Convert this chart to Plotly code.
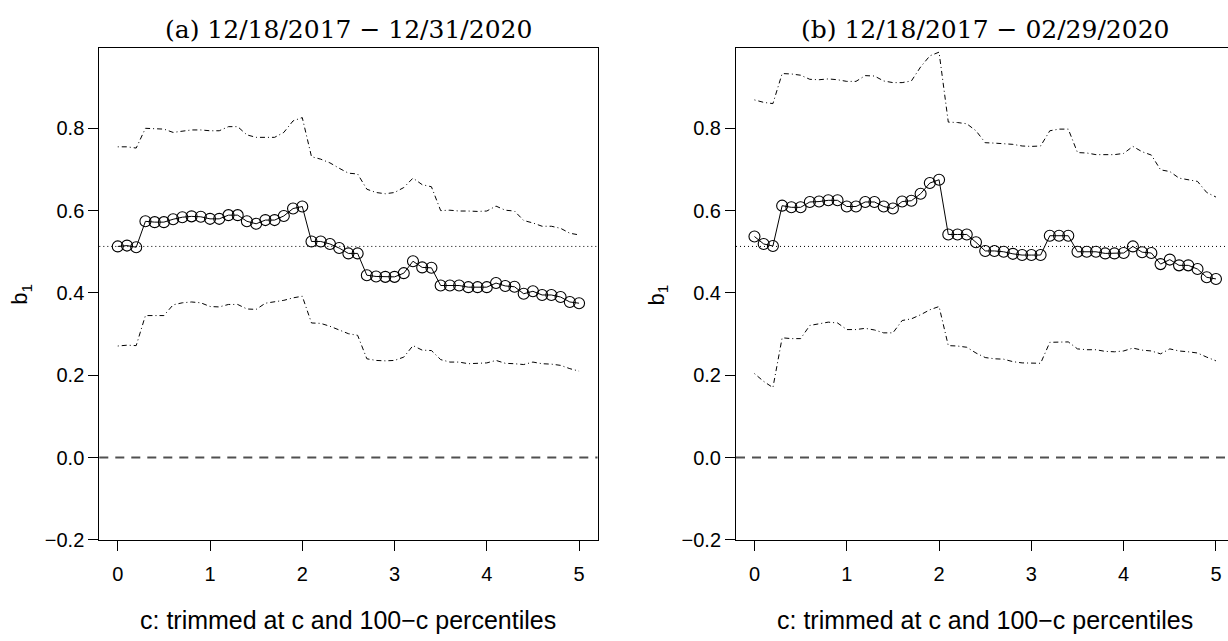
import plotly.graph_objects as go

W, H = 1228, 641

c_vals = [round(0.1 * i, 1) for i in range(51)]

a_est = [0.513,0.515,0.511,0.574,0.572,0.572,0.579,0.584,0.586,0.585,
         0.580,0.580,0.589,0.589,0.574,0.568,0.577,0.577,0.587,0.605,
         0.610,0.525,0.525,0.519,0.509,0.496,0.496,0.443,0.440,0.439,
         0.439,0.448,0.477,0.462,0.461,0.418,0.418,0.418,0.414,0.414,
         0.414,0.424,0.417,0.415,0.398,0.404,0.395,0.395,0.390,0.378,0.375]
a_upper = [0.755,0.755,0.752,0.800,0.799,0.798,0.790,0.793,0.796,0.796,
           0.794,0.794,0.804,0.804,0.784,0.778,0.778,0.778,0.790,0.818,
           0.826,0.731,0.725,0.716,0.703,0.691,0.689,0.652,0.644,0.641,
           0.644,0.656,0.679,0.663,0.658,0.600,0.601,0.599,0.599,0.598,
           0.599,0.611,0.601,0.599,0.576,0.570,0.562,0.562,0.557,0.545,0.541]
a_lower = [0.271,0.273,0.272,0.345,0.345,0.345,0.371,0.376,0.378,0.376,
           0.367,0.366,0.372,0.372,0.361,0.360,0.375,0.378,0.382,0.388,
           0.392,0.327,0.326,0.319,0.310,0.301,0.297,0.240,0.236,0.235,
           0.236,0.244,0.272,0.261,0.260,0.238,0.232,0.232,0.228,0.229,
           0.230,0.236,0.229,0.228,0.226,0.232,0.228,0.227,0.224,0.216,0.210]

b_est = [0.537,0.519,0.514,0.612,0.608,0.608,0.621,0.622,0.625,0.625,
         0.610,0.610,0.621,0.621,0.610,0.605,0.622,0.624,0.641,0.667,
         0.675,0.542,0.542,0.542,0.523,0.502,0.502,0.500,0.495,0.492,
         0.492,0.492,0.539,0.539,0.539,0.500,0.500,0.500,0.496,0.496,
         0.497,0.513,0.499,0.497,0.470,0.481,0.467,0.467,0.458,0.438,0.434]
b_upper = [0.869,0.863,0.860,0.933,0.932,0.929,0.919,0.918,0.920,0.918,
           0.914,0.914,0.928,0.927,0.915,0.911,0.911,0.915,0.949,0.976,
           0.985,0.815,0.814,0.811,0.794,0.765,0.764,0.762,0.761,0.757,
           0.756,0.757,0.794,0.798,0.798,0.741,0.740,0.736,0.736,0.736,
           0.739,0.756,0.743,0.735,0.699,0.695,0.679,0.675,0.671,0.644,0.633]
b_lower = [0.204,0.185,0.170,0.291,0.289,0.289,0.321,0.325,0.329,0.327,
           0.311,0.311,0.314,0.310,0.303,0.303,0.333,0.337,0.347,0.359,
           0.367,0.272,0.271,0.268,0.254,0.243,0.240,0.239,0.233,0.230,
           0.229,0.229,0.280,0.281,0.281,0.264,0.262,0.262,0.258,0.257,
           0.259,0.266,0.261,0.259,0.252,0.264,0.259,0.257,0.254,0.244,0.235]

full_sample = 0.513

titles = ["(a) 12/18/2017 \u2212 12/31/2020", "(b) 12/18/2017 \u2212 02/29/2020"]
x_title = "c: trimmed at c and 100\u2212c percentiles"
y_title = "b<sub>1</sub>"
y_tickvals = [-0.2, 0.0, 0.2, 0.4, 0.6, 0.8]
y_ticktext = ["\u22120.2", "0.0", "0.2", "0.4", "0.6", "0.8"]
x_tickvals = [0, 1, 2, 3, 4, 5]

SANS = "Liberation Sans, Arial, sans-serif"
SERIF = "DejaVu Serif, serif"

def px(x):
    return x / W

def py(y):
    return 1 - y / H

# panel geometry (pixels)
top, bottom = 49.3, 549.3
L_left, L_right = 99.3, 597.5
R_left = 736.0
unit_px = 92.3

fig = go.Figure()

panels = [
    (a_est, a_upper, a_lower, "x", "y"),
    (b_est, b_upper, b_lower, "x2", "y2"),
]
for est, up, lo, xa, ya in panels:
    for bound in (up, lo):
        fig.add_trace(go.Scatter(
            x=c_vals, y=bound, mode="lines", xaxis=xa, yaxis=ya,
            line=dict(color="black", width=1, dash="1px,3px,5px,3px"),
            showlegend=False, hoverinfo="skip"))
    fig.add_trace(go.Scatter(
        x=c_vals, y=est, mode="lines+markers", xaxis=xa, yaxis=ya,
        line=dict(color="black", width=1),
        marker=dict(symbol="circle-open", size=11, color="black",
                    line=dict(width=1.1, color="black")),
        showlegend=False))

yrange = [-0.2, 0.994]
axis_common = dict(showgrid=False, zeroline=False, showline=True,
                   linecolor="black", linewidth=1, ticks="outside",
                   tickcolor="black", tickwidth=1, ticklen=10,
                   tickfont=dict(family=SANS, size=20, color="black"))

fig.update_layout(
    width=W, height=H, margin=dict(l=0, r=0, t=0, b=0),
    paper_bgcolor="white", plot_bgcolor="white",
    xaxis=dict(domain=[px(L_left), px(L_right)], range=[-0.2, 5.2],
               tickvals=x_tickvals, ticklabelstandoff=6,
               mirror=True, anchor="y", **axis_common),
    yaxis=dict(domain=[py(bottom), py(top)], range=yrange,
               tickvals=y_tickvals, ticktext=y_ticktext,
               ticklabelstandoff=0, mirror=True, anchor="x", **axis_common),
    xaxis2=dict(domain=[px(R_left), 1.0],
                range=[-0.2, -0.2 + (W - R_left) / unit_px],
                tickvals=x_tickvals, ticklabelstandoff=6,
                mirror=True, anchor="y2", **axis_common),
    yaxis2=dict(domain=[py(bottom), py(top)], range=yrange,
                tickvals=y_tickvals, ticktext=y_ticktext,
                ticklabelstandoff=0, mirror=False, anchor="x2", **axis_common),
)

shapes = []
for xr, yr in (("x", "y"), ("x2", "y2")):
    shapes.append(dict(type="line", xref=f"{xr} domain", yref=yr,
                       x0=0, x1=1, y0=full_sample, y1=full_sample,
                       line=dict(color="black", width=1, dash="1px,3px")))
    shapes.append(dict(type="line", xref=f"{xr} domain", yref=yr,
                       x0=0, x1=1, y0=0, y1=0,
                       line=dict(color="#505050", width=2, dash="9px,7px")))
fig.update_layout(shapes=shapes)

annotations = []
R_right_full = R_left + (L_right - L_left)
centers = [(L_left + L_right) / 2, (R_left + R_right_full) / 2]
ytitle_x = [21, 21 + (R_left - L_left)]
for i in range(2):
    annotations.append(dict(text=titles[i], x=px(centers[i]), y=py(30),
                            xref="paper", yref="paper", showarrow=False,
                            xanchor="center", yanchor="middle",
                            font=dict(family=SERIF, size=25, color="black")))
    annotations.append(dict(text=x_title, x=px(centers[i]), y=py(631),
                            xref="paper", yref="paper", showarrow=False,
                            xanchor="center", yanchor="middle",
                            font=dict(family=SANS, size=25, color="black")))
    annotations.append(dict(text=y_title, x=px(ytitle_x[i]), y=py(300),
                            xref="paper", yref="paper", showarrow=False,
                            textangle=-90, xanchor="center", yanchor="middle",
                            font=dict(family=SANS, size=22, color="black")))
fig.update_layout(annotations=annotations)

fig.write_html("out.html")
